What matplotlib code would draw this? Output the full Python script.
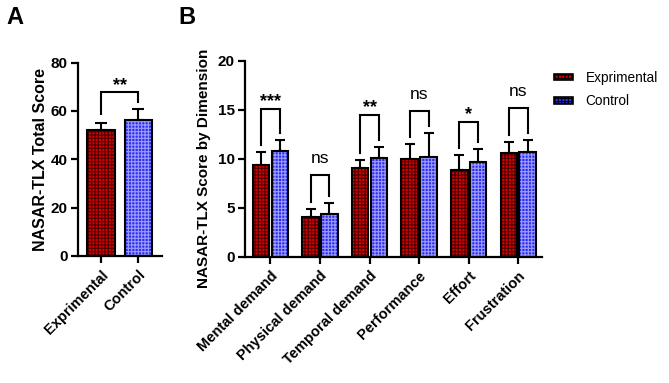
import matplotlib
matplotlib.use('Agg')
import matplotlib.pyplot as plt
from matplotlib.patches import Patch
import numpy as np

plt.rcParams['font.family'] = ['Liberation Sans', 'DejaVu Sans']
plt.rcParams['hatch.linewidth'] = 0.8

# panel A data
groups_a = ['Exprimental', 'Control']
total_mean = [52.3, 56.1]
total_err = [2.9, 4.6]
total_sig = '**'
total_bracket = 67.7

# panel B data
dims = ['Mental demand', 'Physical demand', 'Temporal demand',
        'Performance', 'Effort', 'Frustration']
exp_mean = [9.4, 4.1, 9.05, 9.95, 8.9, 10.6]
exp_err = [1.25, 0.8, 0.8, 1.55, 1.5, 1.1]
ctl_mean = [10.85, 4.4, 10.05, 10.15, 9.7, 10.7]
ctl_err = [1.05, 1.1, 1.15, 2.45, 1.3, 1.2]
dim_sig = ['***', 'ns', '**', 'ns', '*', 'ns']
dim_bracket = [15.1, 8.4, 14.5, 14.9, 13.8, 15.2]

red_face = '#d80000'
red_hatch = '#4a0000'
blue_face = '#3030ee'
blue_hatch = '#9c9cff'
HATCH = '+' * 5


def hatched_bars(ax, x, h, w, face, hcol):
    ax.bar(x, h, w, color=face, edgecolor=hcol, hatch=HATCH, linewidth=0, zorder=2)
    ax.bar(x, h, w, facecolor='none', edgecolor='black', linewidth=1.5, zorder=3)


def style_axis(ax):
    for s in ['top', 'right']:
        ax.spines[s].set_visible(False)
    for s in ['left', 'bottom']:
        ax.spines[s].set_linewidth(1.6)
    ax.tick_params(width=1.6, length=5)
    ax.tick_params(axis='y', labelsize=11, pad=2.5)
    for lab in ax.get_yticklabels():
        lab.set_fontweight('bold')


def bracket(ax, x1, x2, y1, y2, top, txt, bold, size):
    ax.plot([x1, x1, x2, x2], [y1, top, top, y2], color='black', lw=1.5,
            solid_joinstyle='miter', zorder=4)
    ax.text((x1 + x2) / 2, top + (0.035 if bold else 0.045) * ax.get_ylim()[1], txt,
            ha='center', va='bottom' if not bold else 'center',
            fontsize=size, fontweight='bold' if bold else 'normal')


fig = plt.figure(figsize=(6.69, 3.83), dpi=100)

# ---- panel A
axa = fig.add_axes([0.117, 0.332, 0.1247, 0.5045])
xa = np.arange(len(groups_a))
axa.errorbar(xa, total_mean, yerr=[[0, 0], total_err], fmt='none', ecolor='black',
             elinewidth=1.5, capsize=4, capthick=1.5, zorder=1)
hatched_bars(axa, xa[0], total_mean[0], 0.73, red_face, red_hatch)
hatched_bars(axa, xa[1], total_mean[1], 0.73, blue_face, blue_hatch)
axa.set_xlim(-0.61, 1.63)
axa.set_ylim(0, 80)
axa.set_yticks([0, 20, 40, 60, 80])
axa.set_xticks(xa)
axa.set_xticklabels(groups_a, rotation=45, ha='right', rotation_mode='anchor',
                    fontsize=10.5, fontweight='bold')
axa.set_ylabel('NASAR-TLX Total Score', fontsize=11.5, fontweight='bold', labelpad=2)
style_axis(axa)
tops = [m + e for m, e in zip(total_mean, total_err)]
bracket(axa, xa[0], xa[1], tops[0] + 3.5, tops[1] + 3, total_bracket, total_sig, True, 13)

# ---- panel B
axb = fig.add_axes([0.3665, 0.329, 0.4437, 0.5125])
xb = np.arange(len(dims))
off = 0.19
w = 0.335
axb.errorbar(xb - off, exp_mean, yerr=[np.zeros(6), exp_err], fmt='none', ecolor='black',
             elinewidth=1.5, capsize=3.5, capthick=1.5, zorder=1)
axb.errorbar(xb + off, ctl_mean, yerr=[np.zeros(6), ctl_err], fmt='none', ecolor='black',
             elinewidth=1.5, capsize=3.5, capthick=1.5, zorder=1)
hatched_bars(axb, xb - off, exp_mean, w, red_face, red_hatch)
hatched_bars(axb, xb + off, ctl_mean, w, blue_face, blue_hatch)
axb.set_xlim(-0.51, 5.48)
axb.set_ylim(0, 20)
axb.set_yticks([0, 5, 10, 15, 20])
axb.set_xticks(xb)
axb.set_xticklabels(dims, rotation=45, ha='right', rotation_mode='anchor',
                    fontsize=10.5, fontweight='bold')
axb.set_ylabel('NASAR-TLX Score by Dimension', fontsize=11, fontweight='bold', labelpad=2)
style_axis(axb)
axb.yaxis.set_label_coords(-0.115, 0.45)
for i in range(len(dims)):
    y1 = exp_mean[i] + exp_err[i] + 0.75
    y2 = ctl_mean[i] + ctl_err[i] + 0.75
    bold = dim_sig[i] != 'ns'
    bracket(axb, xb[i] - off, xb[i] + off, y1, y2, dim_bracket[i], dim_sig[i], bold,
            13 if bold else 12.5)

# legend
handles = [Patch(facecolor=red_face, edgecolor='black', hatch=HATCH, linewidth=1.2),
           Patch(facecolor=blue_face, edgecolor='black', hatch=HATCH, linewidth=1.2)]
fig.legend(handles, ['Exprimental', 'Control'], loc='upper left',
           bbox_to_anchor=(0.81, 0.847), frameon=False, fontsize=9.8,
           handlelength=1.4, handleheight=0.35, handletextpad=0.9, labelspacing=0.7)

fig.text(0.010, 0.955, 'A', fontsize=17, fontweight='bold', va='center')
fig.text(0.266, 0.955, 'B', fontsize=17, fontweight='bold', va='center')

fig.savefig('out.png', dpi=100)
